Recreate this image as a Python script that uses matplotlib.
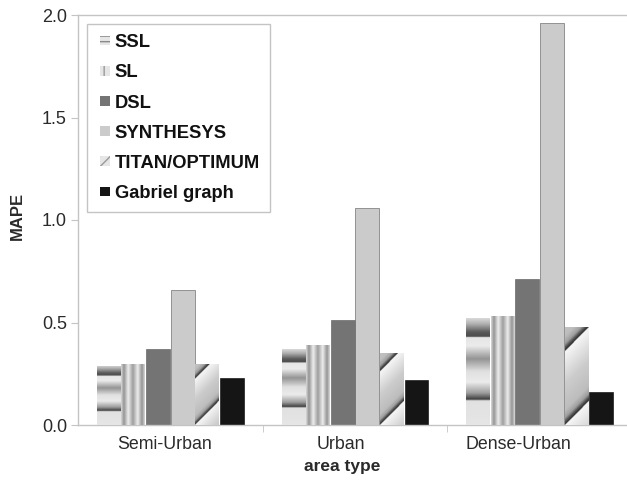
import matplotlib
matplotlib.use("Agg")
import matplotlib.pyplot as plt
import numpy as np
from matplotlib.patches import Patch, Rectangle
from matplotlib.legend_handler import HandlerPatch

# ---- data ----
categories = ["Semi-Urban", "Urban", "Dense-Urban"]
methods = ["SSL", "SL", "DSL", "SYNTHESYS", "TITAN/OPTIMUM", "Gabriel graph"]
ssl = [0.29, 0.37, 0.52]
sl = [0.30, 0.39, 0.53]
dsl = [0.37, 0.51, 0.71]
synthesys = [0.66, 1.06, 1.96]
titan = [0.30, 0.35, 0.48]
gabriel = [0.23, 0.22, 0.16]
series = [ssl, sl, dsl, synthesys, titan, gabriel]
y_ticks = [0.0, 0.5, 1.0, 1.5, 2.0]

plt.rcParams['font.family'] = ['Liberation Sans', 'DejaVu Sans']

fig = plt.figure(figsize=(6.27, 4.82), dpi=100, facecolor='white')
ax = fig.add_axes([78 / 627, 57 / 482, 554 / 627, 410 / 482])

spine_col = '#c4c4c4'
txt_col = '#2a2a2a'

# gradient profiles for the textured bars (styling only)
def ssl_profile(n):
    t = np.linspace(0, 1, n)  # top -> bottom
    pts = [0, 0.05, 0.13, 0.17, 0.18, 0.26, 0.38, 0.50, 0.60, 0.70, 0.76, 0.775, 1.0]
    val = [0.85, 0.70, 0.35, 0.30, 0.90, 0.92, 0.58, 0.88, 0.92, 0.62, 0.25, 0.88, 0.90]
    return np.interp(t, pts, val)[:, None]

def sl_profile(n):
    s = np.linspace(0, 1, n)  # left -> right
    pts = [0, 0.12, 0.30, 0.50, 0.70, 0.88, 1.0]
    val = [0.85, 0.58, 0.93, 0.62, 0.93, 0.58, 0.85]
    return np.interp(s, pts, val)[None, :]

def titan_profile(wpx, hpx):
    nx, ny = int(wpx * 3), int(hpx * 3)
    xx = np.linspace(0, wpx, nx)[None, :]
    yy = np.linspace(hpx, 0, ny)[:, None]  # row 0 at top
    period = 0.75 * hpx
    q = np.mod(xx - yy, period) / period   # grows towards lower right
    pts = [0, 0.04, 0.45, 0.80, 0.90, 0.96, 1.0]
    val = [0.97, 0.95, 0.80, 0.74, 0.62, 0.30, 0.15]
    return np.interp(q, pts, val)

solid_colors = {2: '#747474', 3: '#cbcbcb', 5: '#151515'}

n_groups = len(categories)
n_series = len(series)
width = 0.8 / n_series
x = np.arange(n_groups)

ax.set_xlim(-0.5, n_groups - 0.5)
ax.set_ylim(0, 2.0)

px_x = 554 / n_groups
px_y = 410 / 2.0

for k, vals in enumerate(series):
    pos = x + (k - (n_series - 1) / 2) * width
    if k in solid_colors:
        ax.bar(pos, vals, width=width * 0.97, color=solid_colors[k],
               edgecolor='#555555' if k != 5 else '#000000', linewidth=0.4, zorder=2)
        continue
    bars = ax.bar(pos, vals, width=width * 0.97, color='#d8d8d8', linewidth=0, zorder=2)
    for b in bars:
        bx, bw, bh = b.get_x(), b.get_width(), b.get_height()
        if k == 0:
            img = ssl_profile(200)
        elif k == 1:
            img = sl_profile(100)
        else:
            img = titan_profile(bw * px_x, bh * px_y)
        im = ax.imshow(img, cmap='gray', vmin=0, vmax=1, aspect='auto',
                       interpolation='bilinear', extent=[bx, bx + bw, 0, bh], zorder=3)
        im.set_clip_path(b)

ax.set_xlim(-0.5, n_groups - 0.5)
ax.set_ylim(0, 2.0)

# axes styling
for side in ['left', 'bottom', 'top']:
    ax.spines[side].set_color(spine_col)
    ax.spines[side].set_linewidth(1.0)
ax.spines['right'].set_visible(False)

ax.set_yticks(y_ticks)
ax.set_yticklabels([f"{v:.1f}" for v in y_ticks])
ax.tick_params(axis='y', direction='out', length=5, color=spine_col,
               labelsize=13, labelcolor=txt_col, pad=3)

ax.set_xticks(x * 0.956 - 0.03)
ax.set_xticklabels(categories)
ax.set_xticks(x[:-1] + 0.5, minor=True)
ax.tick_params(axis='x', which='major', length=0, labelsize=12.8, labelcolor=txt_col, pad=8)
ax.tick_params(axis='x', which='minor', direction='out', length=5, color=spine_col)

ax.set_xlabel('area type', fontsize=12.5, fontweight='bold', color=txt_col)
ax.xaxis.set_label_coords(0.4765, -0.083)
ax.set_ylabel('MAPE', fontsize=12, fontweight='bold', color=txt_col)
ax.yaxis.set_label_coords(-0.096, 0.51)

# legend: small square swatches sitting at the right of the handle area
def small_square(legend, orig_handle, xdescent, ydescent, width, height, fontsize):
    return Rectangle((width - height - xdescent, -ydescent), height, height)

handles = [
    Patch(facecolor='#e6e6e6', edgecolor='#8a8a8a', hatch='---', linewidth=0),
    Patch(facecolor='#e6e6e6', edgecolor='#9a9a9a', hatch='||', linewidth=0),
    Patch(facecolor='#747474', linewidth=0),
    Patch(facecolor='#cbcbcb', linewidth=0),
    Patch(facecolor='#e6e6e6', edgecolor='#9a9a9a', hatch='///', linewidth=0),
    Patch(facecolor='#151515', linewidth=0),
]
leg = ax.legend(handles, methods, loc='upper left', bbox_to_anchor=(0.016, 0.978),
                borderaxespad=0, fancybox=False, framealpha=1, edgecolor=spine_col,
                prop={'weight': 'bold', 'size': 13.2}, handlelength=0.72, handleheight=0.45,
                handletextpad=0.25, labelspacing=0.72, borderpad=0.55,
                handler_map={Patch: HandlerPatch(patch_func=small_square)})
leg.get_frame().set_linewidth(1.0)
for t in leg.get_texts():
    t.set_color('#111111')

fig.savefig('out.png', dpi=100, facecolor='white')
